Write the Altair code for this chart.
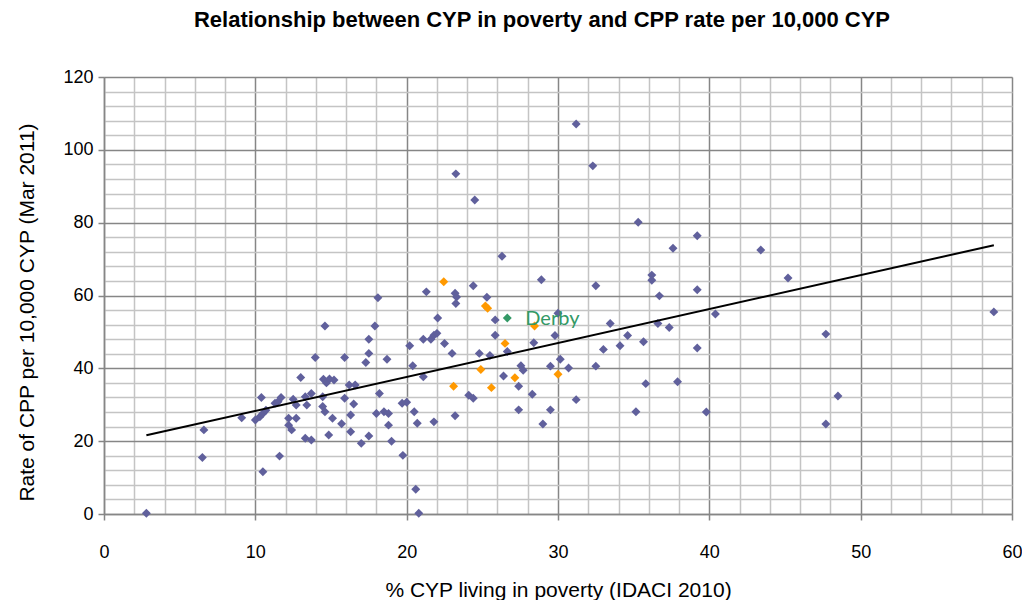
import altair as alt
import pandas as pd

# Local authorities (blue)
blue_x = [2.8, 6.6, 6.5, 9.1, 10.0, 10.3, 10.5, 10.7, 10.4, 10.5, 11.3, 11.5, 11.6, 11.7,
          12.2, 12.7, 12.2, 12.4, 12.5, 12.7, 13.0, 13.3, 13.7, 13.4, 13.3, 13.7, 13.96,
          14.45, 14.45, 14.6, 15.1, 14.6, 14.5, 14.7, 14.9, 15.2, 14.85, 15.7, 15.9, 15.9,
          16.2, 16.6, 16.5, 16.3, 16.3, 17.0, 17.5, 17.3, 17.5, 17.5, 17.9, 18.1, 18.2,
          18.0, 18.5, 18.8, 18.8, 18.7, 19.0, 19.7, 20.0, 19.75, 20.2, 20.4, 20.5, 20.7,
          20.6, 20.8, 21.1, 21.1, 21.6, 21.8, 22.0, 21.3, 21.8, 22.05, 22.5, 23.0, 23.2,
          23.2, 23.3, 23.25, 23.25, 24.4, 24.1, 24.4, 24.5, 24.8, 25.3, 25.5, 25.85, 25.85,
          26.3, 26.4, 26.65, 27.4, 27.4, 27.55, 27.7, 28.3, 28.4, 28.9, 29.0, 29.5, 29.5,
          29.8, 30.0, 30.15, 30.7, 31.2, 31.2, 32.3, 32.5, 32.5, 33.0, 33.45, 34.1, 34.6,
          35.15, 35.3, 35.65, 35.8, 36.2, 36.2, 36.6, 36.7, 37.35, 37.6, 37.9, 39.2, 39.2,
          39.2, 39.8, 40.4, 43.4, 45.2, 47.7, 47.7, 48.5, 58.8]
blue_y = [0.2, 23.1, 15.5, 26.4, 25.8, 26.7, 27.6, 28.5, 32.0, 11.6, 30.4, 30.8, 15.9, 32.0,
          26.3, 26.3, 24.4, 23.1, 31.5, 29.9, 37.5, 32.2, 33.1, 29.9, 20.8, 20.3, 43.0,
          32.2, 29.5, 28.1, 26.3, 51.6, 37.0, 36.0, 37.1, 36.8, 21.7, 24.8, 43.0, 31.8,
          35.4, 35.4, 30.2, 27.2, 22.6, 19.4, 21.4, 41.6, 44.1, 48.0, 51.6, 59.4, 33.1,
          27.6, 28.1, 27.6, 24.4, 42.5, 20.0, 30.4, 30.7, 16.1, 46.2, 40.7, 28.1, 24.9,
          6.8, 0.2, 37.7, 48.0, 48.0, 49.1, 49.6, 61.0, 25.3, 53.8, 46.8, 44.1, 27.0,
          60.6, 59.6, 57.8, 93.4, 62.7, 32.6, 31.8, 86.2, 44.1, 59.5, 43.5, 53.3, 49.1,
          70.8, 37.9, 44.6, 35.1, 28.6, 40.7, 39.5, 32.9, 47.0, 64.3, 24.7, 40.6, 28.6,
          49.0, 55.1, 42.5, 40.1, 31.4, 107.1, 95.6, 62.7, 40.6, 45.2, 52.3, 46.2, 49.0,
          28.1, 80.1, 47.3, 35.8, 65.6, 64.2, 52.3, 59.9, 51.2, 73.0, 36.3, 76.4, 61.6,
          45.6, 28.0, 54.9, 72.5, 64.8, 49.4, 24.7, 32.4, 55.5]

# Statistical neighbours (orange)
orange_x = [22.45, 23.1, 24.9, 25.2, 25.35, 25.6, 26.5, 27.15, 28.45, 30.0]
orange_y = [63.8, 35.1, 39.7, 57.1, 56.5, 34.7, 46.85, 37.4, 51.6, 38.4]

# Derby (green)
derby_x = [26.65]
derby_y = [53.8]
derby_label = ["Derby"]

# Linear trend line end points
trend_x = [2.8, 58.8]
trend_y = [21.6, 73.8]

x_ticks = list(range(0, 61, 2))
y_ticks = list(range(0, 121, 4))

df_blue = pd.DataFrame({"x": blue_x, "y": blue_y})
df_orange = pd.DataFrame({"x": orange_x, "y": orange_y})
df_derby = pd.DataFrame({"x": derby_x, "y": derby_y, "label": derby_label})
df_trend = pd.DataFrame({"x": trend_x, "y": trend_y})

FONT = "Liberation Sans"
MAJOR = "#868686"
MINOR = "#c4c4c4"


def cond(test, a, b):
    return {"condition": {"test": test, "value": a}, "value": b}


x_axis = alt.Axis(
    values=x_ticks, tickCount=200, format="d", grid=True,
    gridColor=cond("datum.value % 10 === 0", MAJOR, MINOR), gridWidth=1.5,
    tickColor=MAJOR, tickWidth=1.5, tickSize=6,
    tickOpacity=cond("datum.value % 10 === 0", 1, 0),
    labelExpr="datum.value % 10 === 0 ? datum.label : ''",
    labelOverlap=False, labelFlush=False,
    labelFont=FONT, labelFontSize=18, labelColor="#000000", labelPadding=23,
    domainColor=MAJOR, domainWidth=1.5,
    title="% CYP living in poverty  (IDACI 2010)",
    titleFont=FONT, titleFontSize=21, titleFontWeight="normal", titleColor="#000000",
    titlePadding=18,
)

y_axis = alt.Axis(
    values=y_ticks, tickCount=200, format="d", grid=True,
    gridColor=cond("datum.value % 20 === 0", MAJOR, MINOR), gridWidth=1.5,
    tickColor=MAJOR, tickWidth=1.5, tickSize=6,
    tickOpacity=cond("datum.value % 20 === 0", 1, 0),
    labelExpr="datum.value % 20 === 0 ? datum.label : ''",
    labelOverlap=False, labelFlush=False,
    labelFont=FONT, labelFontSize=18, labelColor="#000000", labelPadding=5,
    domainColor=MAJOR, domainWidth=1.5,
    title="Rate of CPP per 10,000 CYP (Mar 2011)",
    titleFont=FONT, titleFontSize=21, titleFontWeight="normal", titleColor="#000000",
    titleX=-77, titleY=235, titleBaseline="middle",
)

xs = alt.Scale(domain=[0, 60], nice=False)
ys = alt.Scale(domain=[0, 120], nice=False)

blue = alt.Chart(df_blue).mark_point(
    shape="diamond", filled=True, size=80, color="#60609c", opacity=1
).encode(x=alt.X("x:Q", scale=xs, axis=x_axis), y=alt.Y("y:Q", scale=ys, axis=y_axis))

orange = alt.Chart(df_orange).mark_point(
    shape="diamond", filled=True, size=80, color="#ff9900", opacity=1
).encode(x=alt.X("x:Q", scale=xs), y=alt.Y("y:Q", scale=ys))

trend = alt.Chart(df_trend).mark_line(color="#000000", strokeWidth=2).encode(
    x=alt.X("x:Q", scale=xs), y=alt.Y("y:Q", scale=ys)
)

derby = alt.Chart(df_derby).mark_point(
    shape="diamond", filled=True, size=80, color="#339966", opacity=1
).encode(x=alt.X("x:Q", scale=xs), y=alt.Y("y:Q", scale=ys))

derby_text = alt.Chart(df_derby).mark_text(
    align="left", baseline="middle", dx=18, dy=1, font="Lato", fontSize=20, color="#339966"
).encode(x=alt.X("x:Q", scale=xs), y=alt.Y("y:Q", scale=ys), text="label:N")

chart = alt.layer(blue, orange, trend, derby, derby_text).properties(
    width=908, height=437,
    autosize=alt.AutoSizeParams(type="none"),
    padding={"left": 96, "top": 69, "right": 10, "bottom": 86},
    title=alt.TitleParams(
        "Relationship between CYP in poverty and CPP rate per 10,000 CYP",
        font=FONT, fontSize=22, fontWeight="bold", color="#000000",
        anchor="middle", frame="group", dx=-16, offset=36,
    ),
).configure_view(stroke=None).configure(background="#ffffff")

chart.save("out.html", embed_options={"renderer": "svg", "actions": False})
